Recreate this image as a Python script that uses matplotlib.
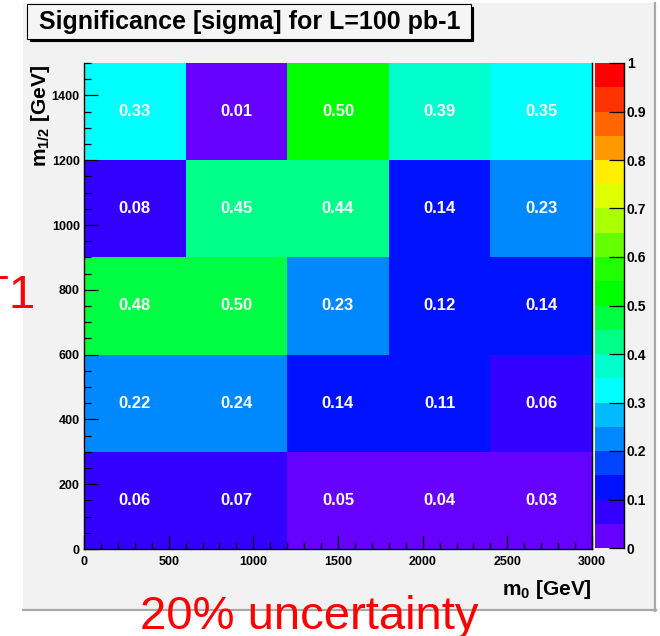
import matplotlib
matplotlib.use('Agg')
import matplotlib.pyplot as plt
import numpy as np
from matplotlib.colors import ListedColormap, BoundaryNorm
from matplotlib.patches import Rectangle
from matplotlib.lines import Line2D
from matplotlib.ticker import MultipleLocator, FixedLocator

plt.rcParams['font.family'] = ['Liberation Sans', 'DejaVu Sans']
plt.rcParams['mathtext.fontset'] = 'custom'
plt.rcParams['mathtext.rm'] = 'Liberation Sans'
plt.rcParams['mathtext.bf'] = 'Liberation Sans:bold'
plt.rcParams['mathtext.it'] = 'Liberation Sans:italic'

# ---------------- data ----------------
m0_edges = [0, 600, 1200, 1800, 2400, 3000]
m12_edges = [0, 300, 600, 900, 1200, 1500]
sig_m12_0_300 = [0.06, 0.07, 0.049, 0.04, 0.03]
sig_m12_300_600 = [0.22, 0.24, 0.14, 0.11, 0.06]
sig_m12_600_900 = [0.48, 0.498, 0.23, 0.12, 0.14]
sig_m12_900_1200 = [0.08, 0.449, 0.44, 0.14, 0.23]
sig_m12_1200_1500 = [0.33, 0.01, 0.502, 0.39, 0.349]
x_ticks = [0, 500, 1000, 1500, 2000, 2500, 3000]
y_ticks = [0, 200, 400, 600, 800, 1000, 1200, 1400]
z_ticks = [0, 0.1, 0.2, 0.3, 0.4, 0.5, 0.6, 0.7, 0.8, 0.9, 1.0]
z_levels = [0, 0.05, 0.1, 0.15, 0.2, 0.25, 0.3, 0.35, 0.4, 0.45, 0.5,
            0.55, 0.6, 0.65, 0.7, 0.75, 0.8, 0.85, 0.9, 0.95, 1.0]
palette = ['#6600ff', '#3300ff', '#0011ff', '#0044ff', '#0088ff',
           '#00bbff', '#00ffff', '#00ffcc', '#00ff88', '#00ff44',
           '#00ff00', '#22ff00', '#66ff00', '#aaff00', '#ddff00',
           '#ffee00', '#ff9900', '#ff6600', '#ff3300', '#ff0000']

Z = np.array([sig_m12_0_300, sig_m12_300_600, sig_m12_600_900,
              sig_m12_900_1200, sig_m12_1200_1500])

W, H = 660, 636
fig = plt.figure(figsize=(W / 100, H / 100), dpi=100)
fig.patch.set_facecolor('white')


def fx(px):
    return px / W


def fy(py):
    return 1 - py / H


# canvas background
fig.add_artist(Rectangle((fx(23), fy(610)), fx(655) - fx(23), fy(3) - fy(610),
                         transform=fig.transFigure, facecolor='#f2f2f2',
                         edgecolor='none', zorder=-5))
fig.add_artist(Line2D([fx(23), fx(656)], [fy(610), fy(610)], color='#a8a8a8',
                      lw=1.6, zorder=-4))
fig.add_artist(Line2D([fx(655), fx(655)], [fy(611), fy(3)], color='#a8a8a8',
                      lw=1.6, zorder=-4))

cmap = ListedColormap(palette)
norm = BoundaryNorm(z_levels, cmap.N)

ax = fig.add_axes([fx(84), fy(549), fx(592) - fx(84), fy(63) - fy(549)])
ax.set_facecolor('none')
mesh = ax.pcolormesh(m0_edges, m12_edges, Z, cmap=cmap, norm=norm)
ax.set_xlim(m0_edges[0], m0_edges[-1])
ax.set_ylim(m12_edges[0], m12_edges[-1])

for i in range(len(m12_edges) - 1):
    for j in range(len(m0_edges) - 1):
        xc = 0.5 * (m0_edges[j] + m0_edges[j + 1])
        yc = 0.5 * (m12_edges[i] + m12_edges[i + 1])
        ax.text(xc, yc, f'{Z[i, j]:.2f}', color='white', fontsize=12,
                fontweight='bold', ha='center', va='center')

ax.xaxis.set_major_locator(FixedLocator(x_ticks))
ax.yaxis.set_major_locator(FixedLocator(y_ticks))
ax.set_xticklabels([str(t) for t in x_ticks])
ax.set_yticklabels([str(t) for t in y_ticks])
ax.xaxis.set_minor_locator(MultipleLocator(100))
ax.yaxis.set_minor_locator(MultipleLocator(50))
ax.tick_params(which='both', direction='in', top=False, right=False,
               color='black', width=0.9)
ax.tick_params(which='major', length=10)
ax.tick_params(which='minor', length=5)
ax.tick_params(axis='x', which='major', pad=5, labelsize=9)
ax.tick_params(axis='y', which='major', pad=3, labelsize=9)
for lab in ax.get_xticklabels() + ax.get_yticklabels():
    lab.set_fontweight('bold')
ax.spines['top'].set_visible(False)
for s in ['left', 'bottom', 'right']:
    ax.spines[s].set_color('black')
    ax.spines[s].set_linewidth(1.0)

# colour bar
cax = fig.add_axes([fx(595), fy(548), fx(624) - fx(595), fy(63) - fy(548)])
cbar = fig.colorbar(mesh, cax=cax, ticks=z_ticks)
cbar.outline.set_visible(False)
cax.yaxis.set_ticks_position('right')
cax.minorticks_off()
cax.tick_params(direction='in', length=11, width=0.9, pad=2, labelsize=10)
cax.set_yticklabels([f'{t:g}' for t in z_ticks])
for lab in cax.get_yticklabels():
    lab.set_fontweight('bold')
cax.plot([1, 1], [0, 1], transform=cax.transAxes, color='black', lw=1.0,
         clip_on=False)

# axis titles
fig.text(fx(41), fy(65), r'$\mathbf{m_{1/2}}$ [GeV]', rotation=90,
         ha='center', va='top', fontsize=15, fontweight='bold')
fig.text(fx(592), fy(595), r'$\mathbf{m_{0}}$ [GeV]', ha='right',
         va='baseline', fontsize=15, fontweight='bold')

# title box
fig.add_artist(Rectangle((fx(30), fy(41)), fx(473) - fx(30), fy(7) - fy(41),
                         transform=fig.transFigure, facecolor='black',
                         edgecolor='black', lw=0.8, zorder=5))
fig.add_artist(Rectangle((fx(27), fy(39)), fx(471) - fx(27), fy(4) - fy(39),
                         transform=fig.transFigure, facecolor='#f5f5f5',
                         edgecolor='black', lw=0.8, zorder=6))
fig.text(fx(250), fy(22), 'Significance [sigma] for L=100 pb-1',
         ha='center', va='center', fontsize=18, fontweight='bold', zorder=7)

# red annotations
fig.text(fx(140), fy(629), '20% uncertainty', color='#ff0000', fontsize=34,
         ha='left', va='baseline', zorder=8)
fig.text(fx(-20), fy(308), 'T1', color='#ff0000', fontsize=34,
         ha='left', va='baseline', zorder=8)

fig.savefig('out.png', dpi=100, facecolor='white')
